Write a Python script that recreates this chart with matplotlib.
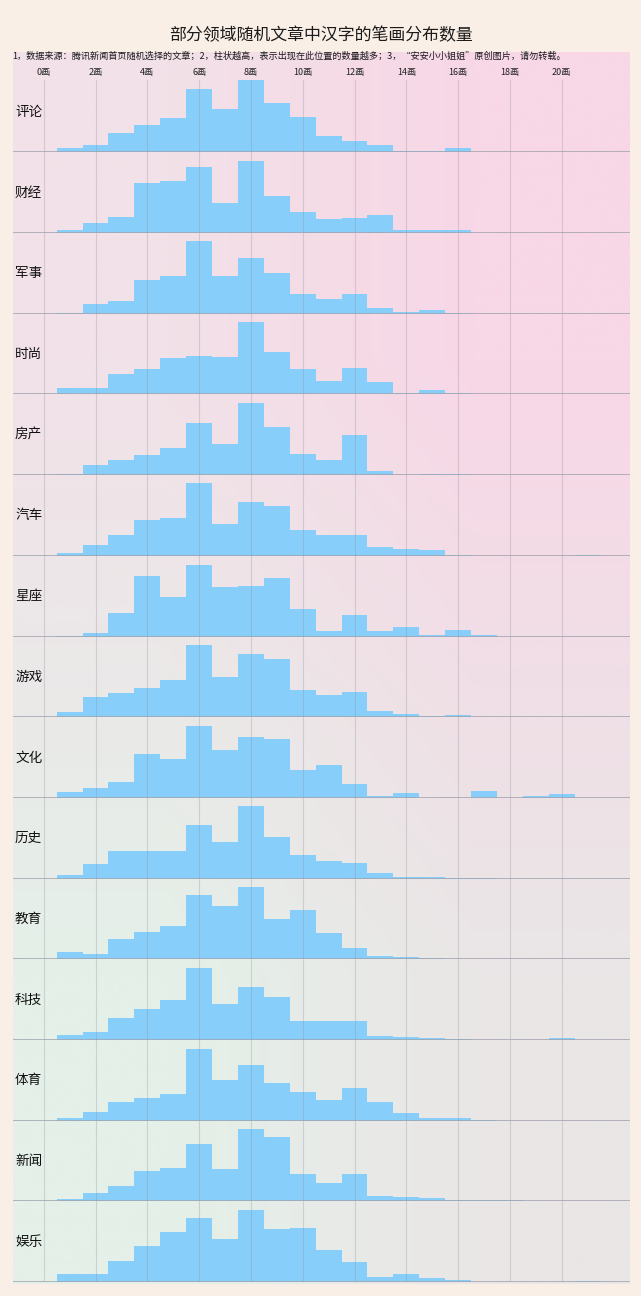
import numpy as np
import matplotlib
matplotlib.use('Agg')
import matplotlib.pyplot as plt

plt.rcParams['font.family'] = ['Noto Sans CJK SC', 'DejaVu Sans']
plt.rcParams['axes.unicode_minus'] = False

# 笔画数 1..21
strokes = list(range(1, 22))
categories = ['评论', '财经', '军事', '时尚', '房产', '汽车', '星座', '游戏',
              '文化', '历史', '教育', '科技', '体育', '新闻', '娱乐']

pinglun = [4.7, 7, 19.3, 27.3, 34.3, 63.3, 43, 72.3, 49, 35, 16, 11.3, 7.3, 1.7, 1.7, 4.3, 0, 0, 0, 0, 0]
caijing = [2.7, 10, 16, 50.3, 51.7, 66, 30.3, 72, 37, 20.7, 14.3, 14.7, 18, 3.3, 2.7, 2.7, 0, 0, 0, 0, 0]
junshi = [0.5, 9.3, 13, 33.7, 37.7, 72.3, 37.7, 55.3, 40.7, 19.3, 14.3, 20, 5.7, 2, 3.7, 0.3, 0, 0, 0, 0, 0]
shishang = [6, 6, 20, 25.7, 36, 38.7, 37, 72.3, 42.3, 25.3, 13, 26.3, 12.3, 1.3, 4.3, 1.3, 0, 0, 0, 0, 0.4]
fangchan = [1, 10.3, 15.3, 20, 27, 51.7, 31.3, 72, 48.3, 20.7, 15.3, 40.3, 3.7, 0.3, 1.3, 1.3, 0, 0, 0, 0, 0]
qiche = [2.7, 11.3, 20.7, 36.3, 38.3, 72.7, 32, 54, 49.7, 26, 20.7, 21, 9, 6.7, 5.7, 1, 0, 0, 0, 0, 0.7]
xingzuo = [1, 3.3, 24, 60.7, 39.3, 71.7, 49.7, 51, 58.3, 27.7, 5.7, 21.3, 5.7, 9.3, 1.7, 6.7, 1.7, 0, 0, 0, 0]
youxi = [5.3, 20.3, 24.7, 29.3, 37.3, 72.3, 40.7, 63, 58.3, 27.3, 22.7, 25, 6.7, 3.7, 1.3, 2.3, 0, 0, 0, 0.4, 0]
wenhua = [6.3, 10.3, 16, 44.3, 39, 72, 47.7, 60.7, 59.3, 27.7, 33.3, 14, 2, 5, 0.3, 0.3, 7.3, 0, 2, 3.7, 0]
lishi = [3.3, 14.7, 27.3, 28, 27.3, 53.3, 36.3, 72.3, 41.7, 23.7, 17.7, 15.7, 5.7, 1.7, 1.3, 0.7, 0.7, 0, 0, 0, 0]
jiaoyu = [7, 5.7, 20.3, 27.7, 33.7, 64.3, 53.3, 72.3, 40.7, 49.7, 26, 11.3, 3.7, 2, 1, 0, 0, 0, 0, 0, 0]
keji = [4.7, 8.3, 22, 30.7, 40.3, 72.3, 36, 52.7, 43, 19.3, 19, 18.7, 4.3, 3.3, 2.3, 1.3, 0.3, 0.3, 0.3, 2.3, 0.3]
tiyu = [2.7, 9, 19, 22.7, 26.7, 72, 40.7, 56, 38, 29, 21, 32.7, 19, 7.5, 2.8, 2.8, 0.7, 0, 0, 0, 0]
xinwen = [2, 8.3, 15.7, 30, 33, 57, 32.3, 72.3, 64.3, 27, 18.3, 27.3, 5, 4.3, 3, 1.7, 1, 1.7, 0, 0, 0.4]
yule = [8.3, 7.7, 21, 36, 50.3, 64, 43.3, 72, 53.3, 54.3, 32, 20, 5, 7.7, 3.7, 1.7, 0, 0, 0, 0, 0.7]

series = [pinglun, caijing, junshi, shishang, fangchan, qiche, xingzuo, youxi,
          wenhua, lishi, jiaoyu, keji, tiyu, xinwen, yule]
tick_values = list(range(0, 21, 2))

title = '部分领域随机文章中汉字的笔画分布数量'
note = '1，数据来源：腾讯新闻首页随机选择的文章；2，柱状越高，表示出现在此位置的数量越多；3，“安安小小姐姐”原创图片，请勿转载。'

W, H = 641, 1296
fig = plt.figure(figsize=(W / 100, H / 100), dpi=100, facecolor='#FAEFE6')


def fx(px):
    return px / W


def fy(py):
    return 1 - py / H


# 背景渐变面板
panel_l, panel_r, panel_t, panel_b = 13, 630, 52, 1284
bg = fig.add_axes([fx(panel_l), fy(panel_b), fx(panel_r - panel_l), (panel_b - panel_t) / H])
corners = np.array([[[242, 225, 232], [248, 215, 230]],
                    [[228, 240, 232], [234, 230, 230]]]) / 255.0
bg.imshow(corners, aspect='auto', interpolation='bilinear', extent=(0, 1, 0, 1))
bg.axis('off')

fig.text(fx(321), fy(35), title, ha='center', va='center', fontsize=12.2,
         fontweight='medium', color='#1a1a1a')
fig.text(fx(12), fy(56), note, ha='left', va='center', fontsize=6.6, color='#1a1a1a')

row_h = 80.7
first_base = 152.3
x0_px, step_px = 43.7, 25.9
xlim = ((panel_l - x0_px) / step_px, (panel_r - x0_px) / step_px)

for i, (name, vals) in enumerate(zip(categories, series)):
    base = first_base + row_h * i
    ax = fig.add_axes([fx(panel_l), fy(base), fx(panel_r - panel_l), row_h / H])
    ax.patch.set_alpha(0)
    ax.bar(strokes, vals, width=1.0, color='#87CEFA', zorder=2)
    ax.set_xlim(*xlim)
    ax.set_ylim(0, row_h)
    top = 1.0
    if i == 0:
        top = (base - 80) / row_h
    for t in tick_values:
        ax.axvline(t, ymin=0, ymax=top, color='#8a8fa0', alpha=0.3, lw=0.8, zorder=3)
    ax.axhline(0, color='#a0a2ac', lw=1.1, zorder=4)
    ax.axis('off')
    fig.text(fx(15), fy(base - row_h / 2), name, ha='left', va='center',
             fontsize=9.8, fontweight='medium', color='#111111')
    if i == 0:
        for t in tick_values:
            ax.text(t, (base - 73) / row_h, '%d画' % t, ha='center', va='center',
                    fontsize=6.5, color='#222222', transform=ax.get_xaxis_transform())

fig.savefig('out.png', dpi=100, facecolor=fig.get_facecolor())
